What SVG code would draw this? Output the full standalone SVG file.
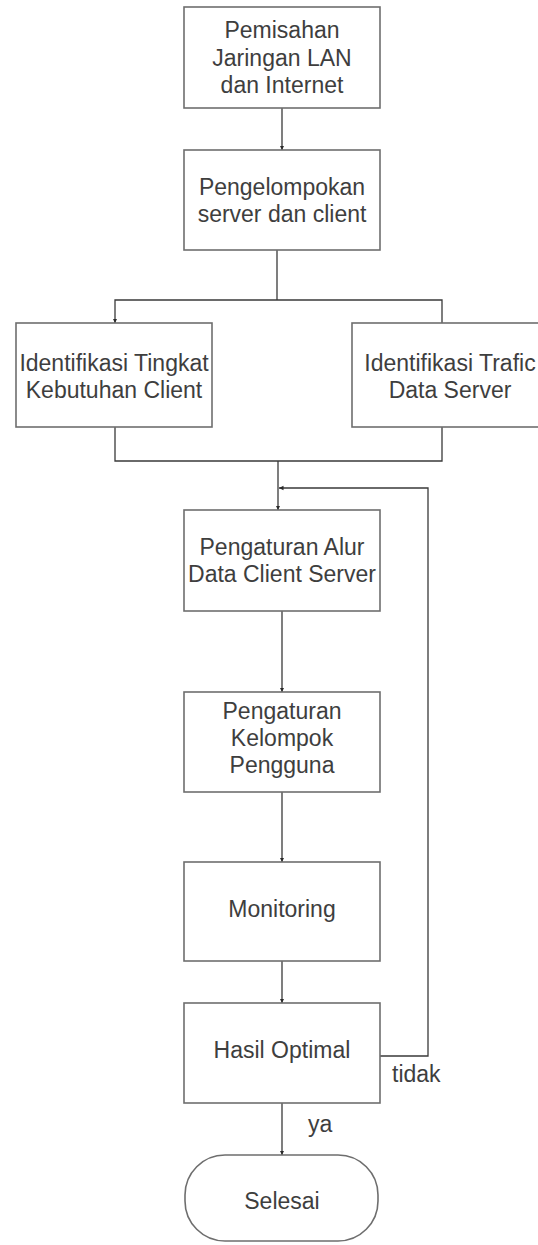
<svg xmlns="http://www.w3.org/2000/svg" width="538" height="1245" viewBox="0 0 538 1245">
<style>
.box{fill:#ffffff;stroke:#6e6e6e;stroke-width:1.6}
.t{font-family:"Liberation Sans",Arial,sans-serif;font-size:23px;fill:#3e3e3e;text-anchor:middle}
.l{font-family:"Liberation Sans",Arial,sans-serif;font-size:23px;fill:#3e3e3e}
.c{fill:none;stroke:#3a3a3a;stroke-width:1.3}
</style>
<defs>
<marker id="ah" viewBox="0 0 10 10" refX="10" refY="5" markerWidth="4.5" markerHeight="7" orient="auto" markerUnits="userSpaceOnUse">
<path d="M0,0 L10,5 L0,10 z" fill="#2a2a2a"/>
</marker>
</defs>
<rect width="538" height="1245" fill="#ffffff"/>
<g id="connectors">
<line class="c" x1="282" y1="108" x2="282" y2="150" marker-end="url(#ah)"/>
<polyline class="c" points="277,250 277,300"/>
<polyline class="c" points="442,323 442,300 115,300 115,323" marker-end="url(#ah)"/>
<polyline class="c" points="115,427 115,461 442,461 442,427"/>
<line class="c" x1="278" y1="461" x2="278" y2="510" marker-end="url(#ah)"/>
<polyline class="c" points="380,1056 428,1056 428,488 279,488" marker-end="url(#ah)"/>
<line class="c" x1="282" y1="611" x2="282" y2="692" marker-end="url(#ah)"/>
<line class="c" x1="282" y1="792" x2="282" y2="862" marker-end="url(#ah)"/>
<line class="c" x1="282" y1="961" x2="282" y2="1003" marker-end="url(#ah)"/>
<line class="c" x1="282" y1="1103" x2="282" y2="1155" marker-end="url(#ah)"/>
<text class="l" x="392" y="1082">tidak</text>
<text class="l" x="308" y="1132">ya</text>
</g>
<g id="n1">
<rect class="box" x="184" y="7" width="196" height="101"/>
<text class="t" x="282" y="38">Pemisahan</text>
<text class="t" x="282" y="66">Jaringan LAN</text>
<text class="t" x="282" y="93">dan Internet</text>
</g>
<g id="n2">
<rect class="box" x="184" y="150" width="196" height="100"/>
<text class="t" x="282" y="195">Pengelompokan</text>
<text class="t" x="282" y="222">server dan client</text>
</g>
<g id="n3">
<rect class="box" x="16" y="323" width="196" height="104"/>
<text class="t" x="114" y="371">Identifikasi Tingkat</text>
<text class="t" x="114" y="398">Kebutuhan Client</text>
</g>
<g id="n4">
<rect class="box" x="352" y="323" width="196" height="104"/>
<text class="t" x="450" y="371">Identifikasi Trafic</text>
<text class="t" x="450" y="398">Data Server</text>
</g>
<g id="n5">
<rect class="box" x="184" y="510" width="196" height="101"/>
<text class="t" x="282" y="555">Pengaturan Alur</text>
<text class="t" x="282" y="582">Data Client Server</text>
</g>
<g id="n6">
<rect class="box" x="184" y="692" width="196" height="100"/>
<text class="t" x="282" y="719">Pengaturan</text>
<text class="t" x="282" y="746">Kelompok</text>
<text class="t" x="282" y="773">Pengguna</text>
</g>
<g id="n7">
<rect class="box" x="184" y="862" width="196" height="99"/>
<text class="t" x="282" y="917">Monitoring</text>
</g>
<g id="n8">
<rect class="box" x="184" y="1003" width="196" height="100"/>
<text class="t" x="282" y="1058">Hasil Optimal</text>
</g>
<g id="n9">
<rect class="box" x="185" y="1155" width="193" height="86" rx="40" ry="40"/>
<text class="t" x="282" y="1209">Selesai</text>
</g>
</svg>
